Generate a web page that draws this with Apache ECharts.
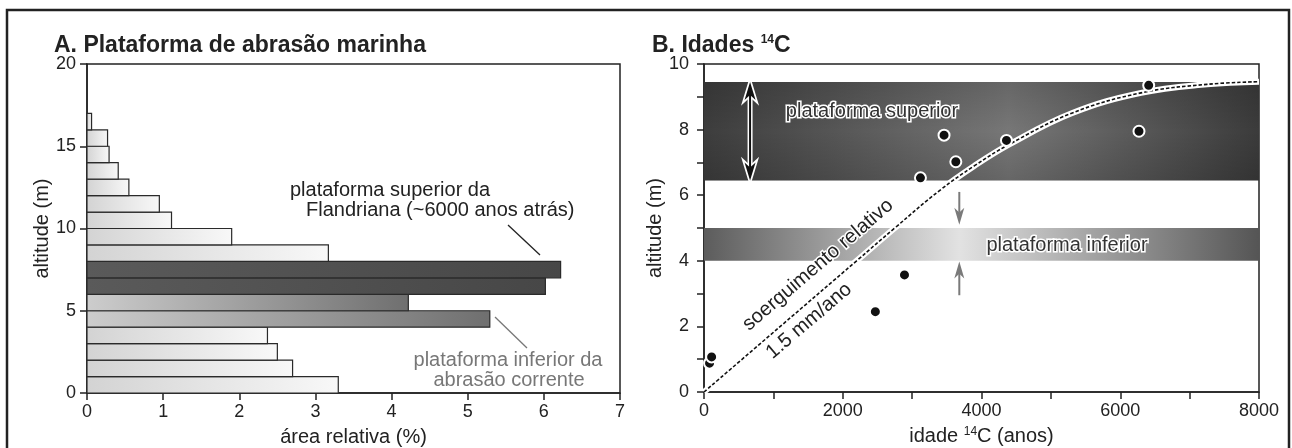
<!DOCTYPE html>
<html><head><meta charset="utf-8">
<script src="https://cdn.jsdelivr.net/npm/echarts@6/dist/echarts.min.js"></script>
<style>html,body{margin:0;padding:0;background:#fff}#c{width:1292px;height:448px}</style>
</head><body><div id="c"></div>
<script>
// ---------- Panel A: histogram of relative area by altitude ----------
const binLower = [0,1,2,3,4,5,6,7,8,9,10,11,12,13,14,15,16];
const areaPct  = [3.30,2.70,2.50,2.37,5.29,4.22,6.02,6.22,3.17,1.90,1.11,0.95,0.55,0.41,0.29,0.27,0.06];
const binGroup = ['light','light','light','light','mid','mid','dark','dark','light','light','light','light','light','light','light','light','light'];
const xTicksA  = [0,1,2,3,4,5,6,7];
const yTicksA  = [0,5,10,15,20];

// ---------- Panel B: 14C ages ----------
const ageYears  = [80,110,2470,2890,3120,3460,3630,4360,6270,6410];
const altitudeM = [0.88,1.07,2.45,3.57,6.53,7.83,7.02,7.67,7.95,9.35];
const curveAge  = [0,1100,2200,2750,3400,3900,4400,5300,6300,7250,8000];
const curveAlt  = [0,2.0,4.0,5.0,6.15,6.9,7.55,8.5,9.12,9.38,9.46];
const upperBand = [6.45, 9.45];
const lowerBand = [4.0, 5.0];
const xLabelsB  = [0,2000,4000,6000,8000];
const yLabelsB  = [0,2,4,6,8,10];
// arrows: [age, fromAlt, toAlt, kind]
const arrowAge  = [664, 3680, 3680];
const arrowFrom = [6.45, 6.1, 2.95];
const arrowTo   = [9.45, 5.1, 3.98];
const arrowKind = ['double','gray','gray'];

const FONT = '"Liberation Sans", Arial, Helvetica, sans-serif';
const INK = '#222';

const chart = echarts.init(document.getElementById('c'), null, {renderer:'canvas'});

const grad = {
  light: () => new echarts.graphic.LinearGradient(0,0,1,0,[{offset:0,color:'#d3d3d3'},{offset:1,color:'#f8f8f8'}]),
  mid:   () => new echarts.graphic.LinearGradient(0,0,1,0,[{offset:0,color:'#cdcdcd'},{offset:1,color:'#6f6f6f'}]),
  dark:  () => new echarts.graphic.LinearGradient(0,0,1,0,[{offset:0,color:'#5a5a5a'},{offset:1,color:'#474747'}])
};

const histData = binLower.map((lo,i)=>[lo, lo+1, areaPct[i], i]);

function axisStyle(extra){
  return Object.assign({
    axisLine:{show:true,lineStyle:{color:INK,width:1.5}},
    axisTick:{show:true,length:7,lineStyle:{color:INK,width:1.5}},
    splitLine:{show:false},
    nameLocation:'middle',
    nameTextStyle:{fontSize:20,color:INK,fontFamily:FONT}
  }, extra);
}

const supRich = {
  s:{fontSize:12,fontFamily:FONT,color:INK,verticalAlign:'top',padding:[0,0,9,0]}
};

function arrowShapes(api, p0, p1, kind){
  const dx = p1[0]-p0[0], dy = p1[1]-p0[1];
  const L = Math.sqrt(dx*dx+dy*dy), ux = dx/L, uy = dy/L, nx = -uy, ny = ux;
  const head = kind==='double' ? 18 : 17, w = kind==='double' ? 11 : 10;
  function headPts(tip, sx, sy){
    const bx = tip[0]-sx*head, by = tip[1]-sy*head;
    const mx = tip[0]-sx*head*0.72, my = tip[1]-sy*head*0.72;
    return [[tip[0],tip[1]],[bx+nx*w/2,by+ny*w/2],[mx,my],[bx-nx*w/2,by-ny*w/2]];
  }
  const children = [];
  const color = kind==='double' ? '#111' : '#7a7a7a';
  const a = kind==='double' ? [p0[0]+ux*head*0.7, p0[1]+uy*head*0.7] : p0;
  const b = [p1[0]-ux*head*0.7, p1[1]-uy*head*0.7];
  if(kind==='double'){
    children.push({type:'line',shape:{x1:a[0],y1:a[1],x2:b[0],y2:b[1]},style:{stroke:'#fff',lineWidth:5}});
    children.push({type:'polygon',shape:{points:headPts(p1,ux,uy)},style:{fill:'#fff',stroke:'#fff',lineWidth:3.5}});
    children.push({type:'polygon',shape:{points:headPts(p0,-ux,-uy)},style:{fill:'#fff',stroke:'#fff',lineWidth:3.5}});
  }
  children.push({type:'line',shape:{x1:a[0],y1:a[1],x2:b[0],y2:b[1]},style:{stroke:color,lineWidth:2}});
  children.push({type:'polygon',shape:{points:headPts(p1,ux,uy)},style:{fill:color}});
  if(kind==='double') children.push({type:'polygon',shape:{points:headPts(p0,-ux,-uy)},style:{fill:color}});
  return {type:'group',children};
}

const tickLabel = {fontSize:18,color:INK,fontFamily:FONT};

const option = {
  animation:false,
  backgroundColor:'#fff',
  title:[
    {text:'A. Plataforma de abrasão marinha',left:54,top:34,padding:0,textStyle:{fontSize:23,fontWeight:'bold',color:INK,fontFamily:FONT}},
    {text:'B. Idades {s|14}C',left:652,top:34,padding:0,textStyle:{fontSize:23,fontWeight:'bold',color:INK,fontFamily:FONT,rich:{s:{fontSize:12,fontWeight:'bold',fontFamily:FONT,color:INK,verticalAlign:'top',padding:[0,0,10,0]}}}}
  ],
  grid:[
    {left:87,right:672,top:64,bottom:55,show:true,borderColor:INK,borderWidth:1.5,backgroundColor:'transparent',outerBoundsMode:'none',containLabel:false},
    {left:704,right:33,top:64,bottom:56,show:true,borderColor:INK,borderWidth:1.5,backgroundColor:'transparent',outerBoundsMode:'none',containLabel:false}
  ],
  xAxis:[
    axisStyle({gridIndex:0,type:'value',min:xTicksA[0],max:xTicksA[xTicksA.length-1],interval:1,name:'área relativa (%)',nameGap:34,
      axisLabel:Object.assign({margin:10},tickLabel)}),
    axisStyle({gridIndex:1,type:'value',min:0,max:xLabelsB[xLabelsB.length-1],interval:1000,name:'idade {s|14}C (anos)',nameGap:34,
      nameTextStyle:{fontSize:20,color:INK,fontFamily:FONT,rich:supRich},
      axisLabel:Object.assign({margin:10,formatter:v=>xLabelsB.includes(v)?String(v):''},tickLabel)})
  ],
  yAxis:[
    axisStyle({gridIndex:0,type:'value',min:yTicksA[0],max:yTicksA[yTicksA.length-1],interval:5,name:'altitude (m)',nameGap:32,
      axisLabel:Object.assign({margin:11},tickLabel)}),
    axisStyle({gridIndex:1,type:'value',min:0,max:yLabelsB[yLabelsB.length-1],interval:1,name:'altitude (m)',nameGap:32,
      axisLabel:Object.assign({margin:15,formatter:v=>yLabelsB.includes(v)?String(v):''},tickLabel)})
  ],
  series:[
    { // histogram
      type:'custom',xAxisIndex:0,yAxisIndex:0,data:histData,z:2,
      renderItem:(params,api)=>{
        const lo=api.value(0),hi=api.value(1),v=api.value(2),i=api.value(3);
        const p0=api.coord([0,hi]),p1=api.coord([v,lo]);
        return {type:'rect',shape:{x:p0[0],y:p0[1],width:p1[0]-p0[0],height:p1[1]-p0[1]},
          style:{fill:grad[binGroup[i]](),stroke:'#2a2a2a',lineWidth:1.2}};
      }
    },
    { // bands
      type:'custom',xAxisIndex:1,yAxisIndex:1,z:1,
      data:[[0,8000,upperBand[0],upperBand[1],0],[0,8000,lowerBand[0],lowerBand[1],1]],
      renderItem:(params,api)=>{
        const p0=api.coord([api.value(0),api.value(3)]),p1=api.coord([api.value(1),api.value(2)]);
        const shape={x:p0[0],y:p0[1],width:p1[0]-p0[0],height:p1[1]-p0[1]};
        if(api.value(4)===0){
          return {type:'group',children:[
            {type:'rect',shape,style:{fill:new echarts.graphic.LinearGradient(0,0,1,0,[
              {offset:0,color:'#3d3d3d'},{offset:0.55,color:'#777777'},{offset:1,color:'#3b3b3b'}])}},
            {type:'rect',shape,style:{fill:new echarts.graphic.LinearGradient(0,0,0,1,[
              {offset:0,color:'rgba(0,0,0,0.14)'},{offset:0.5,color:'rgba(0,0,0,0)'},{offset:1,color:'rgba(0,0,0,0.14)'}])}}
          ]};
        }
        return {type:'rect',shape,style:{fill:new echarts.graphic.LinearGradient(0,0,1,0,[
          {offset:0,color:'#5c5c5c'},{offset:0.46,color:'#e2e2e2'},{offset:1,color:'#555555'}])}};
      }
    },
    { // curve halo
      type:'line',xAxisIndex:1,yAxisIndex:1,z:3,data:curveAge.map((a,i)=>[a,curveAlt[i]]),
      smooth:0.4,symbol:'none',lineStyle:{color:'#fff',width:6},silent:true
    },
    { // curve dashed
      type:'line',xAxisIndex:1,yAxisIndex:1,z:4,data:curveAge.map((a,i)=>[a,curveAlt[i]]),
      smooth:0.4,symbol:'none',lineStyle:{color:'#111',width:1.6,type:[3.5,2]},silent:true
    },
    { // arrows
      type:'custom',xAxisIndex:1,yAxisIndex:1,z:5,
      data:arrowAge.map((a,i)=>[a,arrowFrom[i],arrowTo[i],i]),
      renderItem:(params,api)=>{
        const i=api.value(3);
        return arrowShapes(api, api.coord([api.value(0),api.value(1)]), api.coord([api.value(0),api.value(2)]), arrowKind[i]);
      }
    },
    { // points
      type:'scatter',xAxisIndex:1,yAxisIndex:1,z:6,data:ageYears.map((a,i)=>[a,altitudeM[i]]),
      symbolSize:11,itemStyle:{color:'#111',borderColor:'#fff',borderWidth:2,opacity:1}
    }
  ],
  graphic:[
    {type:'polyline',shape:{points:[[7,470],[7,10],[1289,10],[1289,470]]},style:{stroke:INK,lineWidth:2.5,fill:null},z:100},
    // panel A annotations
    {type:'text',x:290,y:190,style:{text:'plataforma superior da',fontSize:20,fontFamily:FONT,fill:INK,verticalAlign:'middle'},z:20},
    {type:'text',x:306,y:210,style:{text:'Flandriana (~6000 anos atrás)',fontSize:20,fontFamily:FONT,fill:INK,verticalAlign:'middle'},z:20},
    {type:'line',shape:{x1:508,y1:225,x2:540,y2:255},style:{stroke:INK,lineWidth:1.3},z:20},
    {type:'text',x:508,y:360,style:{text:'plataforma inferior da',fontSize:20,fontFamily:FONT,fill:'#777',align:'center',verticalAlign:'middle'},z:20},
    {type:'text',x:509,y:380,style:{text:'abrasão corrente',fontSize:20,fontFamily:FONT,fill:'#777',align:'center',verticalAlign:'middle'},z:20},
    {type:'line',shape:{x1:495,y1:317,x2:527,y2:348},style:{stroke:'#777',lineWidth:1.3},z:20},
    // panel B labels
    {type:'text',x:872,y:111,style:{text:'plataforma superior',fontSize:20,fontFamily:FONT,fill:'#333',stroke:'#fff',lineWidth:3,align:'center',verticalAlign:'middle'},z:20},
    {type:'text',x:1067,y:245,style:{text:'plataforma inferior',fontSize:20,fontFamily:FONT,fill:'#333',stroke:'#fff',lineWidth:3,align:'center',verticalAlign:'middle'},z:20},
    {type:'text',x:818,y:265,rotation:40.5*Math.PI/180,style:{text:'soerguimento relativo',fontSize:20,fontFamily:FONT,fill:INK,stroke:'#fff',lineWidth:3,align:'center',verticalAlign:'middle'},z:20},
    {type:'text',x:809,y:321,rotation:40.5*Math.PI/180,style:{text:'1.5 mm/ano',fontSize:20,fontFamily:FONT,fill:INK,stroke:'#fff',lineWidth:3,align:'center',verticalAlign:'middle'},z:20}
  ]
};
chart.setOption(option);
</script>
</body></html>
